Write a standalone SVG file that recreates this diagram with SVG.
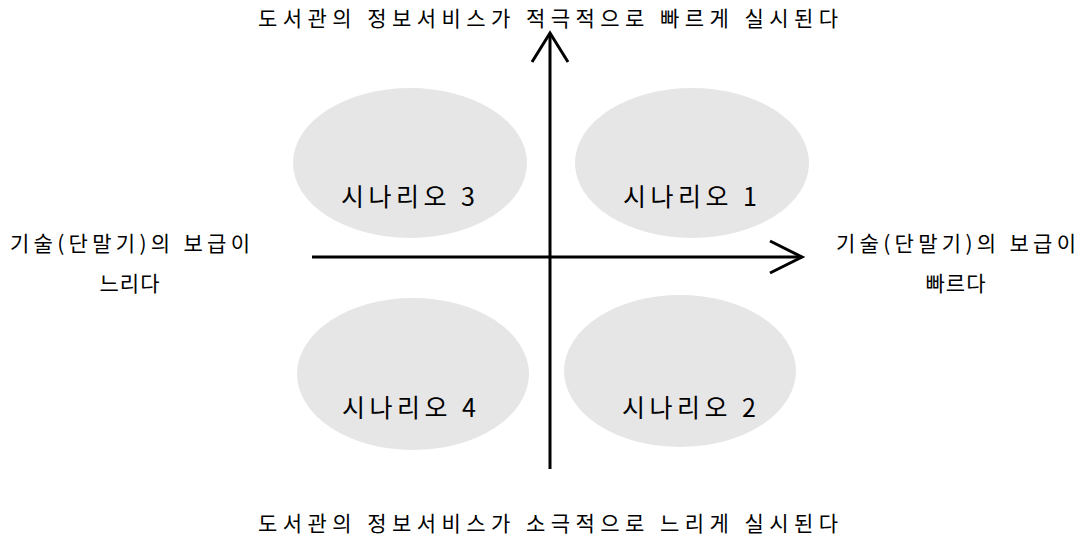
<svg xmlns="http://www.w3.org/2000/svg" width="1092" height="544" viewBox="0 0 1092 544">
<style>
text{font-family:"Noto Sans CJK KR","Noto Sans",sans-serif;fill:#000;}
.lbl{font-size:21px;}
.sc{font-size:25px;text-anchor:middle;}
.ell{fill:#e6e6e6;stroke:none;}
.ax{stroke:#000;stroke-width:3;fill:none;}
</style>
<rect width="1092" height="544" fill="#fff"/>
<g id="n3"><ellipse class="ell" cx="410" cy="163" rx="117" ry="75"/><text class="sc" x="408" y="206" textLength="134" lengthAdjust="spacing">시나리오 3</text></g>
<g id="n1"><ellipse class="ell" cx="692" cy="163" rx="117" ry="75"/><text class="sc" x="690" y="206" textLength="134" lengthAdjust="spacing">시나리오 1</text></g>
<g id="n4"><ellipse class="ell" cx="413" cy="374" rx="116" ry="76"/><text class="sc" x="409" y="417" textLength="134" lengthAdjust="spacing">시나리오 4</text></g>
<g id="n2"><ellipse class="ell" cx="680" cy="371" rx="116" ry="76"/><text class="sc" x="689" y="417" textLength="134" lengthAdjust="spacing">시나리오 2</text></g>
<g id="connectors">
<line class="ax" x1="550" y1="33" x2="550" y2="469"/>
<polyline class="ax" points="532,62 550,33 568,62"/>
<line class="ax" x1="312" y1="257" x2="802" y2="257"/>
<polyline class="ax" points="770,241 802,257 770,273"/>
</g>
<g id="top"><text class="lbl" x="258" y="26" textLength="580" lengthAdjust="spacing">도서관의 정보서비스가 적극적으로 빠르게 실시된다</text></g>
<g id="bottom"><text class="lbl" x="258" y="531" textLength="580" lengthAdjust="spacing">도서관의 정보서비스가 소극적으로 느리게 실시된다</text></g>
<g id="left"><text class="lbl" x="10" y="251" textLength="240" lengthAdjust="spacing">기술(단말기)의 보급이</text><text class="lbl" x="130" y="291" text-anchor="middle" letter-spacing="1">느리다</text></g>
<g id="right"><text class="lbl" x="836" y="251" textLength="240" lengthAdjust="spacing">기술(단말기)의 보급이</text><text class="lbl" x="956" y="291" text-anchor="middle" letter-spacing="1">빠르다</text></g>
</svg>
